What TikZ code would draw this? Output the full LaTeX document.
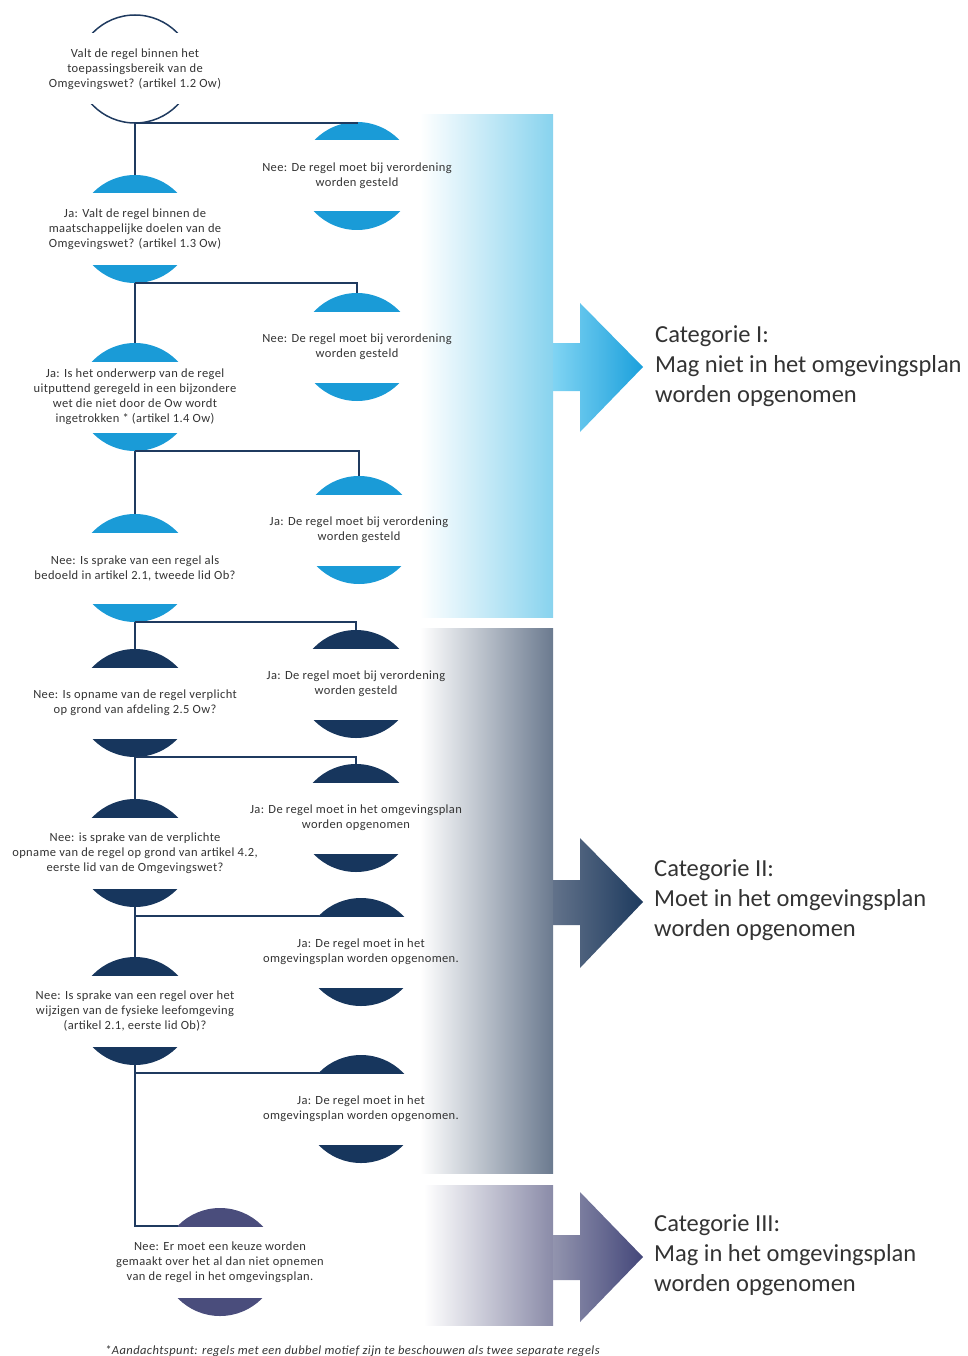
\documentclass[tikz,border=0pt]{standalone}
\usepackage{fontspec}
\setmainfont{Carlito}
\definecolor{cblue}{HTML}{1A9BD7}
\definecolor{cnavy}{HTML}{17365D}
\definecolor{cpurp}{HTML}{4A4D7C}
\definecolor{cline}{HTML}{1F3A5F}
\definecolor{ctext}{HTML}{333333}
\definecolor{barA}{HTML}{88D3EE}
\definecolor{barB}{HTML}{6B7A8F}
\definecolor{barC}{HTML}{8A8BA8}
\definecolor{arrAa}{HTML}{80D4F3}
\definecolor{arrAb}{HTML}{1BA0DC}
\definecolor{arrBa}{HTML}{62728A}
\definecolor{arrBb}{HTML}{1D3A5E}
\definecolor{arrCa}{HTML}{9294AE}
\definecolor{arrCb}{HTML}{44477A}
\newfontfamily\spacedfont[LetterSpace=3]{Carlito}
\newfontfamily\footfont[LetterSpace=3.5]{Carlito}
\tikzset{
  txt/.style={align=center, font=\spacedfont\fontsize{12.5}{15}\selectfont, text=ctext, inner sep=0pt},
  cat/.style={align=left, anchor=west, font=\fontsize{24.5}{30}\selectfont, text=ctext, inner sep=0pt},
  conn/.style={draw=cline, line width=1.6pt},
  capblue/.style={fill=cblue},
  capnavy/.style={fill=cnavy},
  cappurp/.style={fill=cpurp},
  capline/.style={draw=cline, line width=1.5pt},
}
\newcommand\qnode[5]{%
  \begin{scope}
    \clip (#2-70,#3-70) rectangle (#2+70,#3-36);
    \path[#4] (#2,#3+5) circle[radius=59pt];
  \end{scope}
  \begin{scope}
    \clip (#2-70,#3+36) rectangle (#2+70,#3+70);
    \path[#4] (#2,#3-5) circle[radius=59pt];
  \end{scope}
  \node[txt] (#1) at (#2,#3) {#5};
  \coordinate (#1t) at (#2,#3-54);
  \coordinate (#1b) at (#2,#3+54);
  \coordinate (#1l) at (#2-42,#3-36);
}
\begin{document}
\begin{tikzpicture}[x=1pt,y=-1pt]
\useasboundingbox (0,0) rectangle (968,1356);
% bars
\shade[left color=white, right color=barA] (420,115) rectangle (553,617);
\shade[left color=white, right color=barB] (420,628) rectangle (553,1173);
\shade[left color=white, right color=barC] (424,1185) rectangle (553,1325);
% arrows
\shade[left color=arrAa, right color=arrAb] (553,343) -- (580,343) -- (580,303) -- (643,367) -- (580,432) -- (580,391) -- (553,391) -- cycle;
\shade[left color=arrBa, right color=arrBb] (553,880) -- (580,880) -- (580,838) -- (643,902) -- (580,968) -- (580,925) -- (553,925) -- cycle;
\shade[left color=arrCa, right color=arrCb] (553,1235) -- (580,1235) -- (580,1192) -- (643,1257) -- (580,1322) -- (580,1280) -- (553,1280) -- cycle;
% nodes
\qnode{n1}{135}{69}{capline}{Valt de regel binnen het\\toepassingsbereik van de\\Omgevingswet? (artikel 1.2 Ow)}
\qnode{n2}{135}{229}{capblue}{Ja: Valt de regel binnen de\\maatschappelijke doelen van de\\Omgevingswet? (artikel 1.3 Ow)}
\qnode{n3}{135}{397}{capblue}{Ja: Is het onderwerp van de regel\\uitputtend geregeld in een bijzondere\\wet die niet door de Ow wordt\\ingetrokken * (artikel 1.4 Ow)}
\qnode{n4}{135}{568}{capblue}{Nee: Is sprake van een regel als\\bedoeld in artikel 2.1, tweede lid Ob?}
\qnode{n5}{135}{703}{capnavy}{Nee: Is opname van de regel verplicht\\op grond van afdeling 2.5 Ow?}
\qnode{n6}{135}{853}{capnavy}{Nee: is sprake van de verplichte\\opname van de regel op grond van artikel 4.2,\\eerste lid van de Omgevingswet?}
\qnode{n7}{135}{1011}{capnavy}{Nee: Is sprake van een regel over het\\wijzigen van de fysieke leefomgeving\\(artikel 2.1, eerste lid Ob)?}
\qnode{n8}{220}{1262}{cappurp}{Nee: Er moet een keuze worden\\gemaakt over het al dan niet opnemen\\van de regel in het omgevingsplan.}
\qnode{r1}{357}{176}{capblue}{Nee: De regel moet bij verordening\\worden gesteld}
\qnode{r2}{357}{347}{capblue}{Nee: De regel moet bij verordening\\worden gesteld}
\qnode{r3}{359}{530}{capblue}{Ja: De regel moet bij verordening\\worden gesteld}
\qnode{r4}{356}{684}{capnavy}{Ja: De regel moet bij verordening\\worden gesteld}
\qnode{r5}{356}{818}{capnavy}{Ja: De regel moet in het omgevingsplan\\worden opgenomen}
\qnode{r6}{361}{952}{capnavy}{Ja: De regel moet in het\\omgevingsplan worden opgenomen.}
\qnode{r7}{361}{1109}{capnavy}{Ja: De regel moet in het\\omgevingsplan worden opgenomen.}
% connectors
\draw[conn] (n1b) -- (n2t);
\draw[conn] (n2b) -- (n3t);
\draw[conn] (n3b) -- (n4t);
\draw[conn] (n4b) -- (n5t);
\draw[conn] (n5b) -- (n6t);
\draw[conn] (n6b) -- (n7t);
\draw[conn] (n7b) |- (n8l);
\draw[conn] (n1b) -| (r1t);
\draw[conn] (n2b) -| (r2t);
\draw[conn] (n3b) -| (r3t);
\draw[conn] (n4b) -| (r4t);
\draw[conn] (n5b) -| (r5t);
\draw[conn] (r6l) -- (r6l -| n1b);
\draw[conn] (r7l) -- (r7l -| n1b);
% categories
\node[cat] (cat1) at (655,366) {Categorie I:\\Mag niet in het omgevingsplan\\worden opgenomen};
\node[cat] (cat2) at (654,900) {Categorie II:\\Moet in het omgevingsplan\\worden opgenomen};
\node[cat] (cat3) at (654,1255) {Categorie III:\\Mag in het omgevingsplan\\worden opgenomen};
% footnote
\node[anchor=base west, inner sep=0pt, text=ctext, font=\footfont\itshape\fontsize{12.5}{14}\selectfont] (foot) at (105,1354) {*Aandachtspunt: regels met een dubbel motief zijn te beschouwen als twee separate regels};
\end{tikzpicture}
\end{document}
